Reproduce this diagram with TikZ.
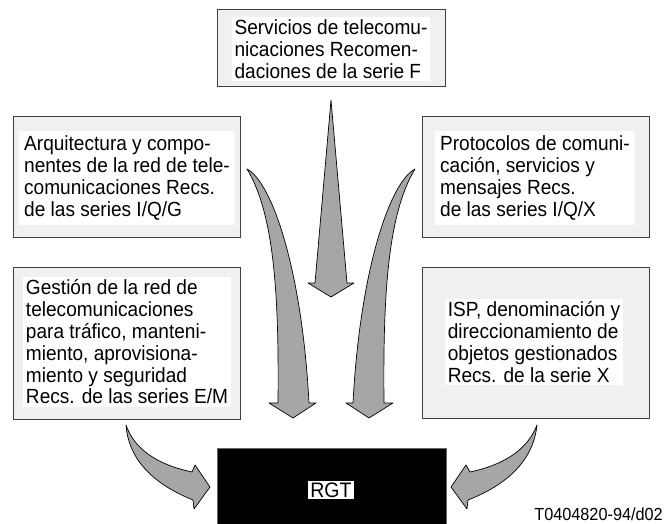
\documentclass[tikz,border=0pt]{standalone}
\usepackage{fontspec}
\setmainfont{Liberation Sans}[FakeStretch=0.93]
\newcommand{\panelfont}{\fontsize{20.5}{21.8}\selectfont}
\tikzset{
	panel/.style={draw=black!75, fill=black!6, line width=0.8pt},
	paneltext/.style={fill=white, align=left, inner sep=3pt, font=\panelfont},
	fatarrow/.style={draw=black, fill=black!35, line width=0.7pt, line join=round}
}

\begin{document}
\begin{tikzpicture}[x=1pt, y=-1pt]
			%%%%% START %%%%%
			\useasboundingbox (0, 0) rectangle (664, 524);
			
			% top panel
			\draw[panel] (217, 9) rectangle (445, 86);
			\node[paneltext] (servicios) at (331, 49) {Servicios de telecomu-\\nicaciones Recomen-\\daciones de la serie F};
			
			% upper panels
			\draw[panel] (13, 116) rectangle (240, 237);
			\node[paneltext, inner sep=5pt] (arquitectura) at (127, 178) {Arquitectura y compo-\\nentes de la red de tele-\\comunicaciones Recs.\\de las series I/Q/G};
			\draw[panel] (422, 116) rectangle (649, 237);
			\node[paneltext, inner sep=5pt] (protocolos) at (535, 178) {Protocolos de comuni-\\cación, servicios y\\mensajes Recs.\\de las series I/Q/X};
			
			% lower panels
			\draw[panel] (13, 267) rectangle (240, 419);
			\node[paneltext] (gestion) at (127, 342) {Gestión de la red de\\telecomunicaciones\\para tráfico, manteni-\\miento, aprovisiona-\\miento y seguridad\\Recs. de las series E/M};
			\draw[panel] (422, 267) rectangle (649, 418);
			\node[paneltext] (isp) at (534, 342) {ISP, denominación y\\direccionamiento de\\objetos gestionados\\Recs. de la serie X};
			
			% RGT
			\draw[draw=black!60, fill=black] (217, 448) rectangle (446, 525);
			\node[fill=white, inner sep=2pt, font=\fontsize{21}{22}\selectfont] (rgt) at (331, 490) {RGT};
			
			% arrows
			\draw[fatarrow] (331, 100) -- (347, 283) -- (354, 283) -- (331, 297) -- (308, 283) -- (315, 283) -- cycle;
			\draw[fatarrow] (247, 169) .. controls (272, 182) and (302, 270) .. (309, 403) -- (316, 403) -- (293, 418) -- (269, 403) -- (278, 403) .. controls (279, 300) and (275, 215) .. cycle;
			\draw[fatarrow] (415, 169) .. controls (390, 182) and (360, 270) .. (353, 403) -- (346, 403) -- (369, 418) -- (393, 403) -- (384, 403) .. controls (383, 300) and (387, 215) .. cycle;
			\draw[fatarrow] (126, 425) .. controls (134, 448) and (155, 464) .. (192, 472) -- (195, 465) -- (210, 487) -- (194, 509) -- (193, 500) .. controls (148, 482) and (128, 455) .. cycle;
			\draw[fatarrow] (537, 425) .. controls (528, 448) and (507, 464) .. (470, 472) -- (466, 465) -- (451, 487) -- (467, 509) -- (468, 500) .. controls (514, 482) and (534, 455) .. cycle;
			
			\node[anchor=base east, inner sep=0pt, font=\fontsize{17.5}{18}\selectfont] (figref) at (663, 520) {T0404820-94/d02};
			%%%%% END %%%%%
\end{tikzpicture}
\end{document}
